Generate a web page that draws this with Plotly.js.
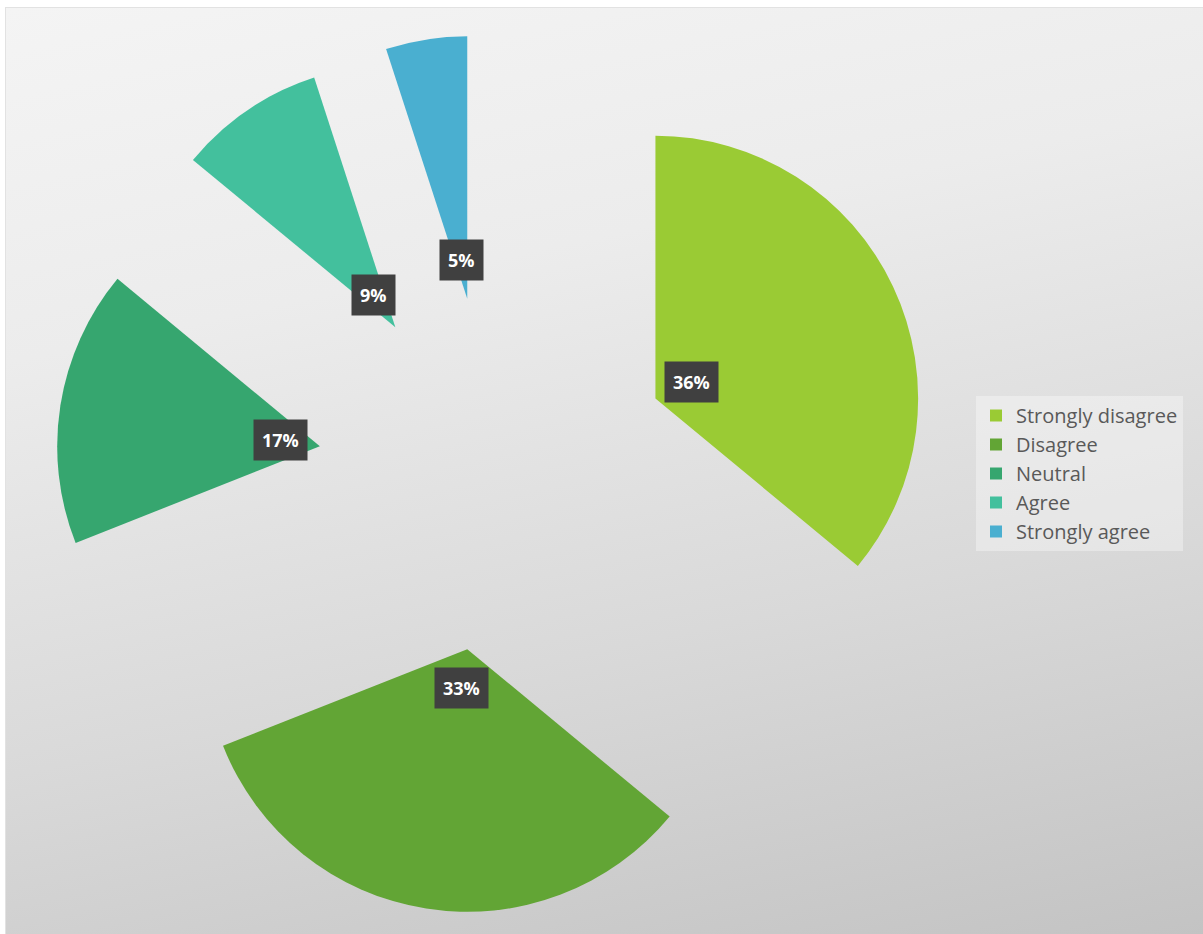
<!DOCTYPE html>
<html>
<head>
<meta charset="utf-8">
<script src="https://cdn.plot.ly/plotly-3.0.1.min.js"></script>
<style>
  html, body { margin: 0; padding: 0; background: #ffffff; }
  #frame { position: absolute; left: 5px; top: 7px; width: 1198px; height: 927px;
           background: linear-gradient(168deg, #f4f4f4 0%, #ececec 30%, #d9d9d9 65%, #c3c3c3 100%);
           border-top: 1px solid #e2e2e2; border-left: 1px solid #e2e2e2; }
  #chart { position: absolute; left: 0; top: 0; width: 1203px; height: 934px; }
</style>
</head>
<body>
<div id="frame"></div>
<div id="chart"></div>
<script>
const categories = ["Strongly disagree", "Disagree", "Neutral", "Agree", "Strongly agree"];
const values = [36, 33, 17, 9, 5];
const valueLabels = ["36%", "33%", "17%", "9%", "5%"];
const colors = ["#9acb34", "#62a535", "#36a66f", "#43c09d", "#4aafd0"];

const W = 1203, H = 934;
const M = { l: 55, r: 0, t: 34, b: 20 };
const plotW = W - M.l - M.r, plotH = H - M.t - M.b;
const PULL = 0.675;

const data = [{
  type: "pie",
  labels: categories,
  values: values,
  sort: false,
  direction: "clockwise",
  rotation: 0,
  pull: categories.map(() => PULL),
  marker: { colors: colors, line: { width: 0 } },
  textinfo: "none",
  hoverinfo: "label+percent",
  domain: { x: [0, plotH / plotW], y: [0, 1] }
}];

const layout = {
  width: W, height: H,
  margin: M,
  paper_bgcolor: "rgba(0,0,0,0)",
  plot_bgcolor: "rgba(0,0,0,0)",
  showlegend: true,
  legend: {
    x: (976 - M.l) / plotW, xanchor: "left",
    y: 1 - (396 - M.t) / plotH, yanchor: "top",
    bgcolor: "rgba(255,255,255,0.35)",
    font: { family: "Open Sans, Noto Sans, sans-serif", size: 20, color: "#595959" },
    traceorder: "normal"
  },
  font: { family: "Open Sans, sans-serif" }
};

const gd = document.getElementById("chart");
Plotly.newPlot(gd, data, layout, { displayModeBar: false, staticPlot: true }).then(() => {
  const cd = gd.calcdata[0];
  const cd0 = cd[0];
  const size = gd._fullLayout._size;
  const offset = 0.15; // label distance from the slice apex, as fraction of radius
  const anns = cd.map((pt, i) => {
    const k = PULL + offset;
    const px = cd0.cx + pt.pxmid[0] * k;
    const py = cd0.cy + pt.pxmid[1] * k;
    return {
      xref: "paper", yref: "paper",
      x: (px - size.l) / size.w,
      y: 1 - (py - size.t) / size.h,
      text: "<b>" + valueLabels[i] + "</b>",
      showarrow: false,
      bgcolor: "#404040",
      borderpad: 8,
      font: { family: "Open Sans, Noto Sans, sans-serif", size: 18, color: "#ffffff" },
      xanchor: "center", yanchor: "middle"
    };
  });
  return Plotly.relayout(gd, { annotations: anns });
});
</script>
</body>
</html>
